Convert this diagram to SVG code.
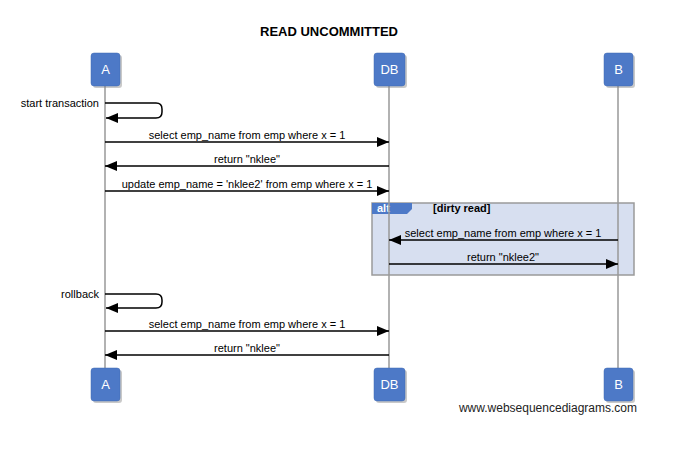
<svg xmlns="http://www.w3.org/2000/svg" width="683" height="463" viewBox="0 0 683 463">
<defs>
<style>
.t{font-family:"Liberation Sans",Arial,sans-serif;font-size:11px;fill:#000}
.pb{fill:#4d79c7;stroke:#3f68b3;stroke-width:0.5}
.sh{fill:#888;opacity:0.45}
.pl{font-family:"Liberation Sans",Arial,sans-serif;font-size:13px;fill:#fff;text-anchor:middle}
.ll{stroke:#999;stroke-width:1.5}
.m{stroke:#000;stroke-width:1.5;fill:none}
.c{text-anchor:middle}
</style>
<marker id="ah" viewBox="0 0 12 10" refX="12" refY="5" markerWidth="12" markerHeight="10" markerUnits="userSpaceOnUse" orient="auto">
<path d="M0,0 L12,5 L0,10 Z" fill="#000"/>
</marker>
</defs>
<rect width="683" height="463" fill="#fff"/>
<text x="329" y="36" font-family="Liberation Sans,Arial,sans-serif" font-size="13" font-weight="bold" text-anchor="middle">READ UNCOMMITTED</text>

<g id="lifelines">
<line class="ll" x1="105" y1="86" x2="105" y2="368"/>
<line class="ll" x1="389" y1="86" x2="389" y2="368"/>
<line class="ll" x1="618" y1="86" x2="618" y2="368"/>
</g>

<g id="alt">
<rect x="372" y="203" width="262" height="72" fill="#d7dff0" stroke="#9a9a9a" stroke-width="1.5"/>
<path d="M372,203 H412 V209 L407,214 H372 Z" fill="#4d79c7"/>
<text x="377" y="212" font-family="Liberation Sans,Arial,sans-serif" font-size="11" font-weight="bold" fill="#fff">alt</text>
<text x="433" y="212" font-family="Liberation Sans,Arial,sans-serif" font-size="11" font-weight="bold">[dirty read]</text>
</g>
<line class="ll" x1="389" y1="203" x2="389" y2="275"/>
<line class="ll" x1="618" y1="203" x2="618" y2="275"/>

<g id="connectors">
<path class="m" d="M105,103 H156 Q162,103 162,109 V112 Q162,118 156,118 H106" marker-end="url(#ah)"/>
<text class="t" x="99" y="107" text-anchor="end">start transaction</text>
<line class="m" x1="105" y1="142" x2="389" y2="142" marker-end="url(#ah)"/>
<text class="t c" x="247" y="139">select emp_name from emp where x = 1</text>
<line class="m" x1="389" y1="166" x2="105" y2="166" marker-end="url(#ah)"/>
<text class="t c" x="247" y="163">return "nklee"</text>
<line class="m" x1="105" y1="191" x2="389" y2="191" marker-end="url(#ah)"/>
<text class="t c" x="247" y="188">update emp_name = 'nklee2' from emp where x = 1</text>
<line class="m" x1="618" y1="240" x2="389" y2="240" marker-end="url(#ah)"/>
<text class="t c" x="503" y="237">select emp_name from emp where x = 1</text>
<line class="m" x1="389" y1="264" x2="618" y2="264" marker-end="url(#ah)"/>
<text class="t c" x="503" y="261">return "nklee2"</text>
<path class="m" d="M105,294 H156 Q162,294 162,300 V302 Q162,308 156,308 H106" marker-end="url(#ah)"/>
<text class="t" x="99" y="298" text-anchor="end">rollback</text>
<line class="m" x1="105" y1="331" x2="389" y2="331" marker-end="url(#ah)"/>
<text class="t c" x="247" y="328">select emp_name from emp where x = 1</text>
<line class="m" x1="389" y1="355" x2="105" y2="355" marker-end="url(#ah)"/>
<text class="t c" x="247" y="352">return "nklee"</text>
</g>

<g id="A-top"><rect class="sh" x="93" y="55" width="29" height="33" rx="3"/><rect class="pb" x="91" y="53" width="29" height="33" rx="3"/><text class="pl" x="105.5" y="74">A</text></g>
<g id="DB-top"><rect class="sh" x="376" y="55" width="31" height="33" rx="3"/><rect class="pb" x="374" y="53" width="31" height="33" rx="3"/><text class="pl" x="389.5" y="74">DB</text></g>
<g id="B-top"><rect class="sh" x="606" y="55" width="29" height="33" rx="3"/><rect class="pb" x="604" y="53" width="29" height="33" rx="3"/><text class="pl" x="618.5" y="74">B</text></g>
<g id="A-bottom"><rect class="sh" x="93" y="370" width="29" height="33" rx="3"/><rect class="pb" x="91" y="368" width="29" height="33" rx="3"/><text class="pl" x="105.5" y="389">A</text></g>
<g id="DB-bottom"><rect class="sh" x="376" y="370" width="31" height="33" rx="3"/><rect class="pb" x="374" y="368" width="31" height="33" rx="3"/><text class="pl" x="389.5" y="389">DB</text></g>
<g id="B-bottom"><rect class="sh" x="606" y="370" width="29" height="33" rx="3"/><rect class="pb" x="604" y="368" width="29" height="33" rx="3"/><text class="pl" x="618.5" y="389">B</text></g>

<text x="637" y="412" font-family="Liberation Sans,Arial,sans-serif" font-size="12" text-anchor="end" fill="#222">www.websequencediagrams.com</text>
</svg>
